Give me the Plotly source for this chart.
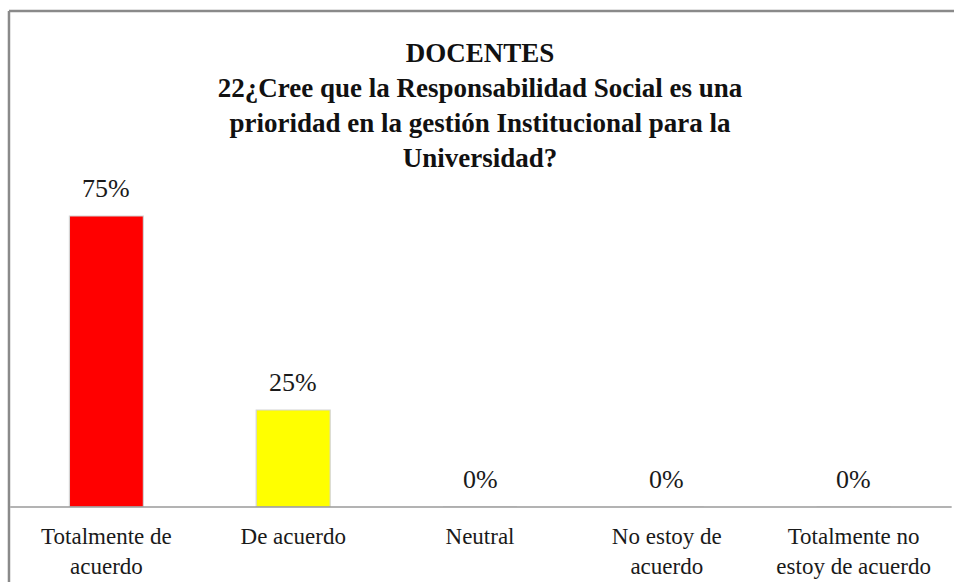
import plotly.graph_objects as go

# Survey responses (percent of teachers)
categorias = [
    "Totalmente de<br>acuerdo",
    "De acuerdo",
    "Neutral",
    "No estoy de<br>acuerdo",
    "Totalmente no<br>estoy de acuerdo",
]
porcentajes = [75, 25, 0, 0, 0]
colores = ["#ff0000", "#ffff00", "#4f81bd", "#c0504d", "#9bbb59"]

titulo = ("<b>DOCENTES<br>22¿Cree que la Responsabilidad Social es una<br>"
          "prioridad en la gestión Institucional para la<br>Universidad?</b>")

serif = "Liberation Serif"

fig = go.Figure()
fig.add_trace(go.Bar(
    x=categorias,
    y=porcentajes,
    marker=dict(color=colores, line=dict(color="#d4d4d4", width=1.2)),
    hoverinfo="skip",
))

# Value labels above each bar
for cat, val in zip(categorias, porcentajes):
    fig.add_annotation(
        x=cat, y=val, xref="x", yref="y",
        text=f"{val}%", showarrow=False,
        yanchor="bottom", yshift=11,
        font=dict(family=serif, size=26, color="#1a1a1a"),
    )

# Chart frame (left and top edges) and the category baseline
frame = dict(color="#8a8a8a", width=2.5)
fig.add_shape(type="line", xref="paper", yref="paper",
              x0=-0.0043, x1=-0.0043, y0=-0.5, y1=1.2784, line=frame)
fig.add_shape(type="line", xref="paper", yref="paper",
              x0=-0.0043, x1=1.2, y0=1.2784, y1=1.2784, line=frame)
fig.add_shape(type="line", xref="paper", yref="paper",
              x0=-0.003, x1=1.005, y0=0, y1=0,
              line=dict(color="#9a9a9a", width=1.5))

fig.update_layout(
    width=954, height=582,
    margin=dict(l=13, r=7, t=119, b=75),
    paper_bgcolor="white", plot_bgcolor="white",
    showlegend=False,
    bargap=0.604,
    title=dict(
        text=titulo, x=0.5, xref="paper", xanchor="center",
        y=1 - 62 / 582, yref="container", yanchor="top",
        font=dict(family=serif, size=27, color="#111111"),
    ),
    xaxis=dict(
        showline=False, showgrid=False, zeroline=False, automargin=False,
        ticks="outside", ticklen=8, tickcolor="rgba(0,0,0,0)",
        tickfont=dict(family=serif, size=23, color="#1a1a1a"),
    ),
    yaxis=dict(range=[0, 100], visible=False, fixedrange=True),
)

fig.write_html("out.html")
